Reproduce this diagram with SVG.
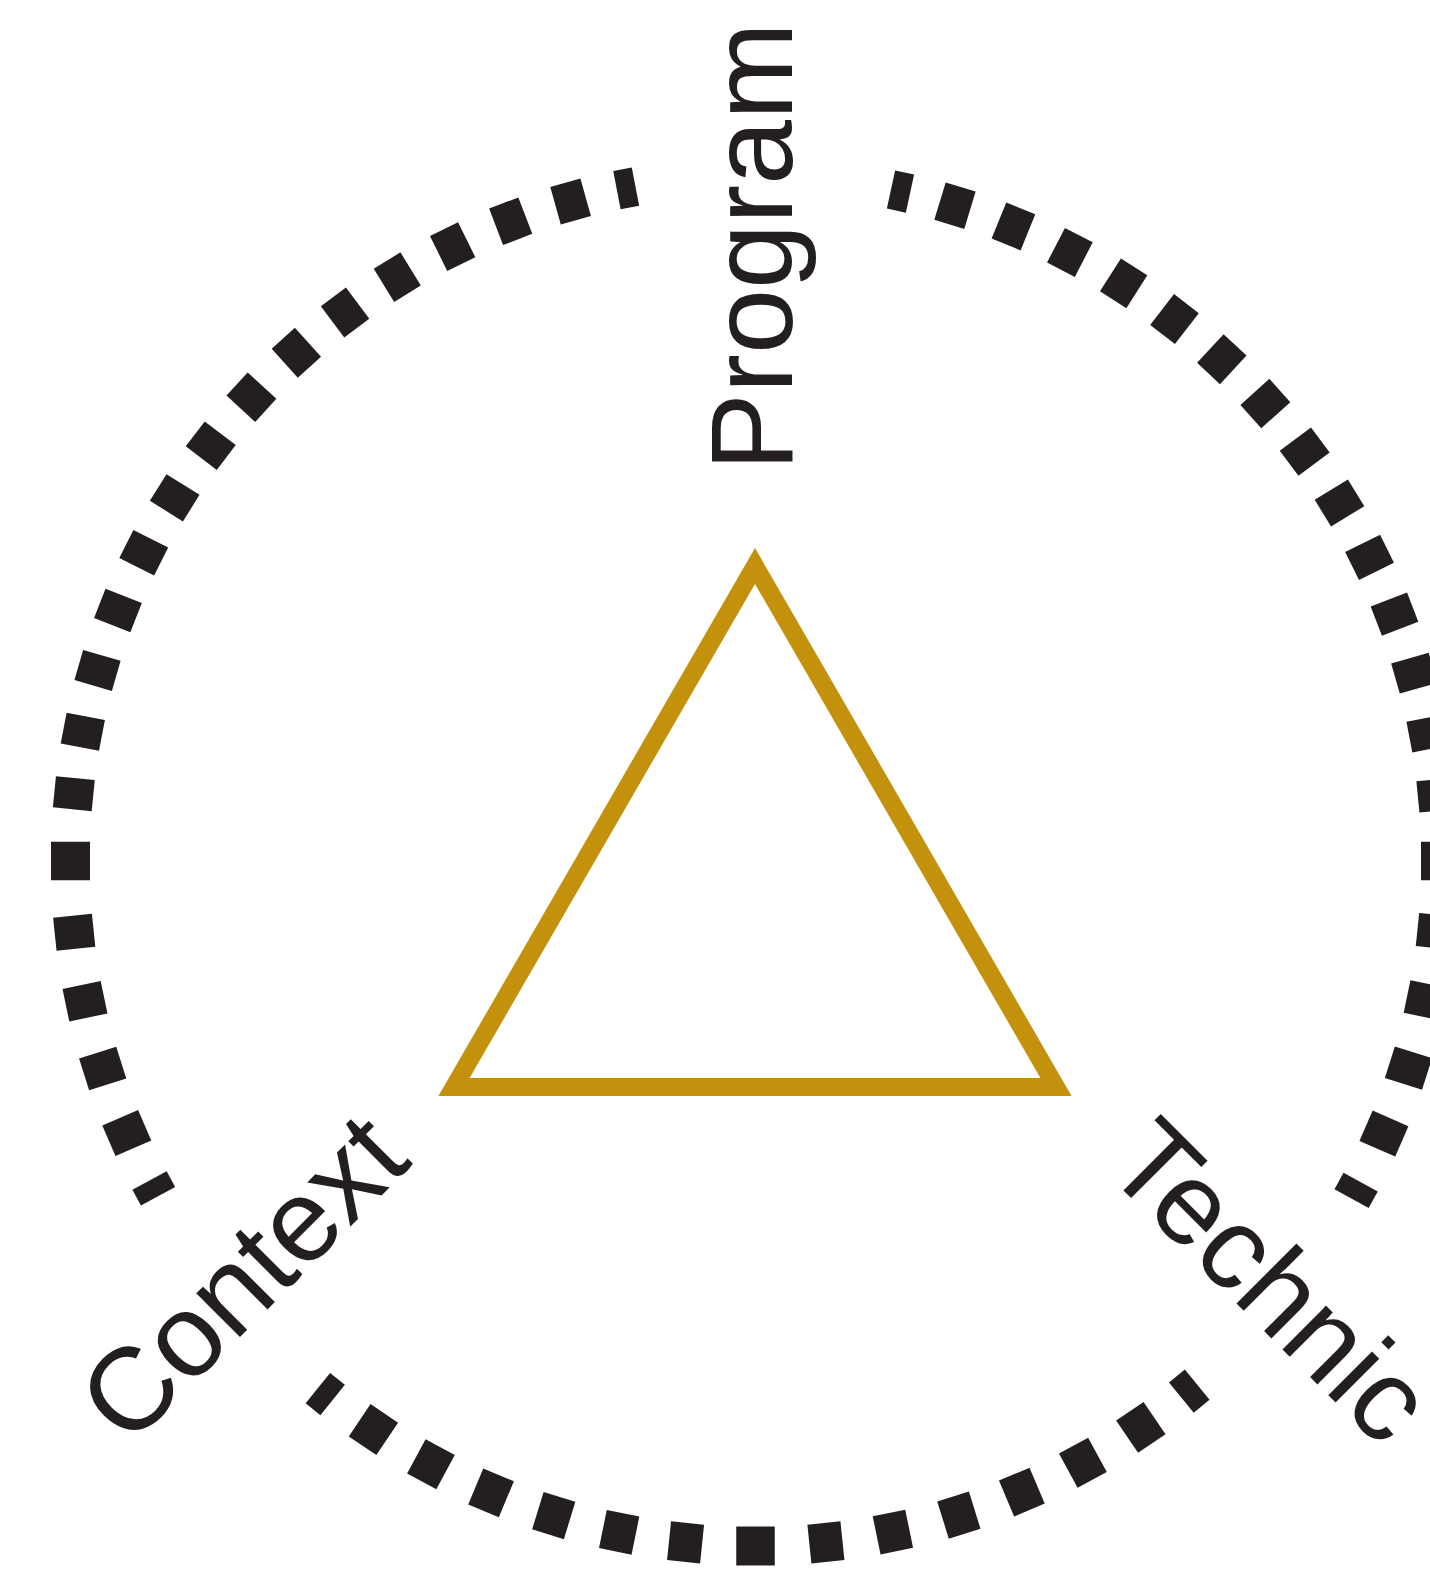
<svg xmlns="http://www.w3.org/2000/svg" xmlns:xlink="http://www.w3.org/1999/xlink" width="1430" height="1569" viewBox="0 0 1430 1569">
<style>
  .lbl { font-family: "Liberation Sans", Arial, Helvetica, sans-serif; font-size: 117px; fill: #231F20; }
  .ring { fill: #231F20; }
  .tri { fill: none; stroke: #C4910C; stroke-width: 18; stroke-linejoin: miter; stroke-miterlimit: 10; }
</style>
<defs>
  <rect id="u" x="-15.65" y="-704.5" width="31.3" height="39"/>
  <rect id="l" x="-16.6" y="-704.5" width="33.2" height="39"/>
  <rect id="c" x="-19.25" y="-704.5" width="38.5" height="39"/>
</defs>
<rect width="1430" height="1569" fill="#ffffff"/>
<g id="ring" class="ring" transform="translate(755.5 861)">
  <!-- upper-right arc -->
  <rect x="-9.7" y="-704.5" width="19.4" height="39" transform="rotate(12.22)"/>
  <use xlink:href="#u" href="#u" transform="rotate(16.93)"/>
  <use xlink:href="#u" href="#u" transform="rotate(22.12)"/>
  <use xlink:href="#u" href="#u" transform="rotate(27.32)"/>
  <use xlink:href="#u" href="#u" transform="rotate(32.51)"/>
  <use xlink:href="#u" href="#u" transform="rotate(37.71)"/>
  <use xlink:href="#u" href="#u" transform="rotate(42.90)"/>
  <use xlink:href="#u" href="#u" transform="rotate(48.10)"/>
  <use xlink:href="#u" href="#u" transform="rotate(53.30)"/>
  <use xlink:href="#u" href="#u" transform="rotate(58.49)"/>
  <use xlink:href="#u" href="#u" transform="rotate(63.69)"/>
  <use xlink:href="#u" href="#u" transform="rotate(68.88)"/>
  <use xlink:href="#u" href="#u" transform="rotate(74.08)"/>
  <use xlink:href="#u" href="#u" transform="rotate(79.27)"/>
  <use xlink:href="#u" href="#u" transform="rotate(84.47)"/>
  <use xlink:href="#c" href="#c" transform="rotate(90)"/>
  <use xlink:href="#l" href="#l" transform="rotate(95.9)"/>
  <use xlink:href="#l" href="#l" transform="rotate(101.75)"/>
  <use xlink:href="#l" href="#l" transform="rotate(107.6)"/>
  <use xlink:href="#l" href="#l" transform="rotate(113.45)"/>
  <rect x="-9.45" y="-704.5" width="18.9" height="39" transform="rotate(118.74)"/>
  <!-- bottom arc -->
  <rect x="-10.25" y="-704.5" width="20.5" height="39" transform="rotate(140.71)"/>
  <use xlink:href="#l" href="#l" transform="rotate(145.77)"/>
  <use xlink:href="#l" href="#l" transform="rotate(151.45)"/>
  <use xlink:href="#l" href="#l" transform="rotate(157.12)"/>
  <use xlink:href="#l" href="#l" transform="rotate(162.73)"/>
  <use xlink:href="#l" href="#l" transform="rotate(168.43)"/>
  <use xlink:href="#l" href="#l" transform="rotate(174.1)"/>
  <use xlink:href="#c" href="#c" transform="rotate(180)"/>
  <use xlink:href="#l" href="#l" transform="rotate(185.86)"/>
  <use xlink:href="#l" href="#l" transform="rotate(191.48)"/>
  <use xlink:href="#l" href="#l" transform="rotate(197.13)"/>
  <use xlink:href="#l" href="#l" transform="rotate(202.71)"/>
  <use xlink:href="#l" href="#l" transform="rotate(208.28)"/>
  <use xlink:href="#l" href="#l" transform="rotate(213.9)"/>
  <rect x="-9.5" y="-704.5" width="19" height="39" transform="rotate(218.91)"/>
  <!-- left arc -->
  <rect x="-8.95" y="-704.5" width="17.9" height="39" transform="rotate(241.45)"/>
  <use xlink:href="#l" href="#l" transform="rotate(246.61)"/>
  <use xlink:href="#l" href="#l" transform="rotate(252.37)"/>
  <use xlink:href="#l" href="#l" transform="rotate(258.19)"/>
  <use xlink:href="#l" href="#l" transform="rotate(264.03)"/>
  <use xlink:href="#c" href="#c" transform="rotate(270)"/>
  <use xlink:href="#u" href="#u" transform="rotate(275.64)"/>
  <use xlink:href="#u" href="#u" transform="rotate(280.88)"/>
  <use xlink:href="#u" href="#u" transform="rotate(286.15)"/>
  <use xlink:href="#u" href="#u" transform="rotate(291.45)"/>
  <use xlink:href="#u" href="#u" transform="rotate(296.74)"/>
  <use xlink:href="#u" href="#u" transform="rotate(302.02)"/>
  <use xlink:href="#u" href="#u" transform="rotate(307.32)"/>
  <use xlink:href="#u" href="#u" transform="rotate(312.62)"/>
  <use xlink:href="#u" href="#u" transform="rotate(317.91)"/>
  <use xlink:href="#u" href="#u" transform="rotate(323.19)"/>
  <use xlink:href="#u" href="#u" transform="rotate(328.47)"/>
  <use xlink:href="#u" href="#u" transform="rotate(333.76)"/>
  <use xlink:href="#u" href="#u" transform="rotate(339.06)"/>
  <use xlink:href="#u" href="#u" transform="rotate(344.34)"/>
  <rect x="-9.45" y="-704.5" width="18.9" height="39" transform="rotate(349.12)"/>
</g>
<g id="triangle">
  <polygon class="tri" points="755,566 454,1087 1056,1087"/>
</g>
<g id="label-program">
  <text class="lbl" transform="translate(792 471) rotate(-90)">Program</text>
</g>
<g id="label-context">
  <text class="lbl" transform="translate(128.5 1448.5) rotate(-45)">Context</text>
</g>
<g id="label-technic">
  <text class="lbl" transform="translate(1102.1 1169.1) rotate(45)">Technic</text>
</g>
</svg>
